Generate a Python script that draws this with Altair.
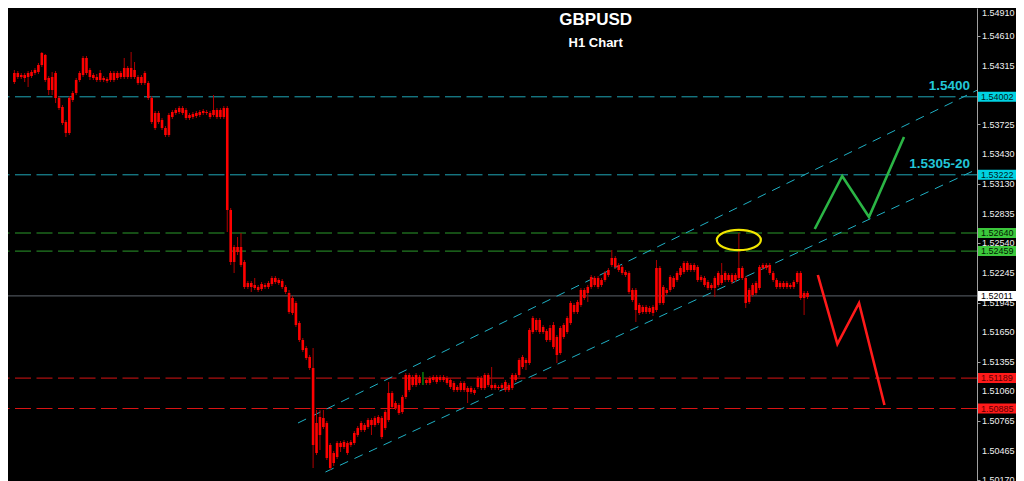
import altair as alt
import pandas as pd

# ---------------- candle data (H1 bars, GBPUSD) ----------------
opens = [
    1.5415, 1.5424, 1.5422, 1.5419, 1.5420, 1.5421, 1.5424, 1.5425, 1.5432, 1.5442,
    1.5419, 1.5420, 1.5424, 1.5399, 1.5390, 1.5364, 1.5364, 1.5397, 1.5404, 1.5417,
    1.5422, 1.5439, 1.5427, 1.5422, 1.5417, 1.5424, 1.5419, 1.5416, 1.5417, 1.5424,
    1.5419, 1.5420, 1.5420, 1.5429, 1.5420, 1.5427, 1.5420, 1.5414, 1.5424, 1.5414,
    1.5399, 1.5369, 1.5384, 1.5377, 1.5369, 1.5362, 1.5380, 1.5384, 1.5385, 1.5389,
    1.5387, 1.5379, 1.5380, 1.5381, 1.5382, 1.5386, 1.5385, 1.5384, 1.5382, 1.5387,
    1.5380, 1.5380, 1.5389, 1.5287, 1.5235, 1.5250, 1.5250, 1.5235, 1.5210, 1.5214,
    1.5209, 1.5210, 1.5208, 1.5212, 1.5210, 1.5213, 1.5219, 1.5217, 1.5216, 1.5210,
    1.5204, 1.5199, 1.5194, 1.5174, 1.5157, 1.5149, 1.5140, 1.5129, 1.5044, 1.5080,
    1.5070, 1.5074, 1.5052, 1.5034, 1.5040, 1.5054, 1.5050, 1.5054, 1.5052, 1.5054,
    1.5062, 1.5067, 1.5072, 1.5070, 1.5077, 1.5072, 1.5074, 1.5079, 1.5069, 1.5077,
    1.5104, 1.5094, 1.5092, 1.5085, 1.5100, 1.5122, 1.5112, 1.5122, 1.5114, 1.5116,
    1.5117, 1.5114, 1.5117, 1.5120, 1.5117, 1.5120, 1.5119, 1.5117, 1.5114, 1.5107,
    1.5107, 1.5114, 1.5109, 1.5105, 1.5107, 1.5110, 1.5119, 1.5109, 1.5122, 1.5112,
    1.5109, 1.5110, 1.5109, 1.5115, 1.5107, 1.5109, 1.5122, 1.5122, 1.5130, 1.5137,
    1.5134, 1.5165, 1.5177, 1.5165, 1.5170, 1.5166, 1.5157, 1.5172, 1.5160, 1.5144,
    1.5160, 1.5165, 1.5174, 1.5192, 1.5185, 1.5192, 1.5207, 1.5204, 1.5210, 1.5219,
    1.5210, 1.5217, 1.5217, 1.5222, 1.5232, 1.5239, 1.5232, 1.5230, 1.5225, 1.5224,
    1.5207, 1.5207, 1.5192, 1.5185, 1.5190, 1.5185, 1.5190, 1.5187, 1.5229, 1.5194,
    1.5207, 1.5207, 1.5219, 1.5217, 1.5222, 1.5225, 1.5234, 1.5227, 1.5232, 1.5230,
    1.5217, 1.5219, 1.5215, 1.5209, 1.5209, 1.5212, 1.5222, 1.5217, 1.5222, 1.5215,
    1.5222, 1.5219, 1.5229, 1.5219, 1.5195, 1.5202, 1.5204, 1.5209, 1.5229, 1.5232,
    1.5232, 1.5224, 1.5217, 1.5210, 1.5214, 1.5210, 1.5212, 1.5210, 1.5215, 1.5224,
    1.5199, 1.5204,
]
highs = [
    1.5427, 1.5426, 1.5424, 1.5424, 1.5426, 1.5427, 1.5429, 1.5434, 1.5445, 1.5443,
    1.5421, 1.5425, 1.5426, 1.5401, 1.5392, 1.5377, 1.5401, 1.5406, 1.5419, 1.5426,
    1.5441, 1.5441, 1.5429, 1.5424, 1.5423, 1.5427, 1.5421, 1.5420, 1.5426, 1.5426,
    1.5426, 1.5426, 1.5439, 1.5431, 1.5445, 1.5435, 1.5422, 1.5422, 1.5426, 1.5416,
    1.5401, 1.5386, 1.5386, 1.5379, 1.5371, 1.5384, 1.5387, 1.5389, 1.5391, 1.5391,
    1.5389, 1.5384, 1.5385, 1.5386, 1.5387, 1.5388, 1.5387, 1.5386, 1.5402, 1.5389,
    1.5389, 1.5391, 1.5391, 1.5289, 1.5252, 1.5260, 1.5264, 1.5237, 1.5216, 1.5216,
    1.5219, 1.5212, 1.5215, 1.5214, 1.5216, 1.5221, 1.5221, 1.5219, 1.5218, 1.5212,
    1.5207, 1.5201, 1.5196, 1.5176, 1.5159, 1.5151, 1.5142, 1.5149, 1.5087, 1.5087,
    1.5087, 1.5076, 1.5054, 1.5046, 1.5056, 1.5056, 1.5057, 1.5056, 1.5057, 1.5066,
    1.5071, 1.5076, 1.5074, 1.5079, 1.5079, 1.5081, 1.5082, 1.5081, 1.5087, 1.5115,
    1.5106, 1.5096, 1.5094, 1.5102, 1.5124, 1.5124, 1.5122, 1.5124, 1.5122, 1.5125,
    1.5119, 1.5121, 1.5122, 1.5122, 1.5122, 1.5122, 1.5121, 1.5119, 1.5116, 1.5112,
    1.5116, 1.5116, 1.5111, 1.5111, 1.5109, 1.5121, 1.5121, 1.5124, 1.5124, 1.5130,
    1.5114, 1.5112, 1.5114, 1.5117, 1.5114, 1.5124, 1.5124, 1.5139, 1.5142, 1.5139,
    1.5169, 1.5181, 1.5179, 1.5179, 1.5172, 1.5168, 1.5172, 1.5175, 1.5162, 1.5171,
    1.5174, 1.5181, 1.5196, 1.5194, 1.5197, 1.5209, 1.5209, 1.5212, 1.5222, 1.5221,
    1.5221, 1.5219, 1.5226, 1.5229, 1.5247, 1.5241, 1.5234, 1.5232, 1.5227, 1.5226,
    1.5209, 1.5209, 1.5194, 1.5192, 1.5192, 1.5191, 1.5192, 1.5237, 1.5231, 1.5212,
    1.5209, 1.5222, 1.5221, 1.5226, 1.5231, 1.5236, 1.5236, 1.5234, 1.5234, 1.5232,
    1.5222, 1.5221, 1.5217, 1.5214, 1.5221, 1.5226, 1.5234, 1.5226, 1.5224, 1.5224,
    1.5224, 1.5264, 1.5231, 1.5221, 1.5209, 1.5214, 1.5216, 1.5232, 1.5234, 1.5234,
    1.5234, 1.5226, 1.5219, 1.5216, 1.5216, 1.5216, 1.5214, 1.5217, 1.5226, 1.5226,
    1.5206, 1.5206,
]
lows = [
    1.5413, 1.5418, 1.5418, 1.5415, 1.5410, 1.5419, 1.5422, 1.5423, 1.5430, 1.5415,
    1.5402, 1.5402, 1.5394, 1.5387, 1.5372, 1.5360, 1.5362, 1.5395, 1.5402, 1.5415,
    1.5420, 1.5422, 1.5417, 1.5417, 1.5415, 1.5415, 1.5415, 1.5414, 1.5415, 1.5415,
    1.5417, 1.5418, 1.5418, 1.5418, 1.5418, 1.5418, 1.5412, 1.5412, 1.5412, 1.5397,
    1.5373, 1.5367, 1.5373, 1.5367, 1.5360, 1.5360, 1.5378, 1.5382, 1.5383, 1.5382,
    1.5377, 1.5377, 1.5378, 1.5379, 1.5380, 1.5382, 1.5382, 1.5378, 1.5380, 1.5378,
    1.5378, 1.5378, 1.5265, 1.5232, 1.5224, 1.5242, 1.5230, 1.5208, 1.5208, 1.5205,
    1.5207, 1.5205, 1.5206, 1.5208, 1.5208, 1.5211, 1.5213, 1.5212, 1.5208, 1.5203,
    1.5183, 1.5182, 1.5170, 1.5155, 1.5145, 1.5137, 1.5127, 1.5029, 1.5042, 1.5047,
    1.5068, 1.5037, 1.5027, 1.5031, 1.5038, 1.5045, 1.5048, 1.5042, 1.5050, 1.5052,
    1.5060, 1.5065, 1.5065, 1.5068, 1.5062, 1.5070, 1.5072, 1.5058, 1.5067, 1.5075,
    1.5088, 1.5087, 1.5082, 1.5083, 1.5098, 1.5105, 1.5110, 1.5110, 1.5112, 1.5112,
    1.5112, 1.5112, 1.5115, 1.5113, 1.5115, 1.5115, 1.5112, 1.5108, 1.5105, 1.5105,
    1.5105, 1.5105, 1.5094, 1.5103, 1.5102, 1.5108, 1.5107, 1.5107, 1.5110, 1.5107,
    1.5107, 1.5107, 1.5107, 1.5105, 1.5105, 1.5107, 1.5115, 1.5120, 1.5128, 1.5127,
    1.5132, 1.5163, 1.5165, 1.5163, 1.5163, 1.5155, 1.5155, 1.5148, 1.5134, 1.5142,
    1.5158, 1.5163, 1.5172, 1.5183, 1.5183, 1.5190, 1.5197, 1.5195, 1.5208, 1.5210,
    1.5208, 1.5210, 1.5215, 1.5220, 1.5230, 1.5228, 1.5225, 1.5222, 1.5220, 1.5203,
    1.5195, 1.5175, 1.5182, 1.5183, 1.5183, 1.5183, 1.5181, 1.5185, 1.5192, 1.5192,
    1.5202, 1.5205, 1.5208, 1.5215, 1.5220, 1.5223, 1.5225, 1.5225, 1.5225, 1.5215,
    1.5215, 1.5210, 1.5207, 1.5207, 1.5200, 1.5210, 1.5212, 1.5215, 1.5215, 1.5213,
    1.5215, 1.5217, 1.5217, 1.5189, 1.5193, 1.5200, 1.5202, 1.5207, 1.5227, 1.5227,
    1.5222, 1.5215, 1.5208, 1.5208, 1.5208, 1.5208, 1.5208, 1.5208, 1.5213, 1.5197,
    1.5182, 1.5198,
]
closes = [
    1.5424, 1.5420, 1.5420, 1.5422, 1.5424, 1.5425, 1.5427, 1.5432, 1.5444, 1.5417,
    1.5407, 1.5407, 1.5399, 1.5389, 1.5374, 1.5375, 1.5399, 1.5404, 1.5417, 1.5424,
    1.5439, 1.5424, 1.5420, 1.5419, 1.5420, 1.5417, 1.5417, 1.5418, 1.5424, 1.5417,
    1.5424, 1.5424, 1.5429, 1.5420, 1.5429, 1.5420, 1.5414, 1.5420, 1.5414, 1.5399,
    1.5375, 1.5384, 1.5375, 1.5369, 1.5362, 1.5382, 1.5385, 1.5387, 1.5389, 1.5384,
    1.5379, 1.5382, 1.5383, 1.5384, 1.5385, 1.5384, 1.5384, 1.5380, 1.5387, 1.5380,
    1.5387, 1.5389, 1.5287, 1.5235, 1.5250, 1.5245, 1.5232, 1.5210, 1.5214, 1.5210,
    1.5212, 1.5207, 1.5213, 1.5210, 1.5214, 1.5219, 1.5215, 1.5214, 1.5210, 1.5205,
    1.5185, 1.5184, 1.5172, 1.5157, 1.5147, 1.5139, 1.5129, 1.5052, 1.5074, 1.5062,
    1.5079, 1.5039, 1.5029, 1.5044, 1.5054, 1.5050, 1.5055, 1.5044, 1.5055, 1.5064,
    1.5069, 1.5074, 1.5067, 1.5077, 1.5072, 1.5079, 1.5080, 1.5060, 1.5085, 1.5104,
    1.5090, 1.5089, 1.5084, 1.5100, 1.5122, 1.5107, 1.5120, 1.5112, 1.5120, 1.5116,
    1.5114, 1.5119, 1.5120, 1.5115, 1.5120, 1.5117, 1.5114, 1.5110, 1.5107, 1.5110,
    1.5114, 1.5107, 1.5105, 1.5109, 1.5104, 1.5119, 1.5109, 1.5122, 1.5112, 1.5109,
    1.5112, 1.5109, 1.5112, 1.5107, 1.5112, 1.5122, 1.5117, 1.5137, 1.5140, 1.5134,
    1.5167, 1.5179, 1.5167, 1.5177, 1.5165, 1.5157, 1.5169, 1.5150, 1.5142, 1.5169,
    1.5172, 1.5179, 1.5194, 1.5185, 1.5195, 1.5207, 1.5199, 1.5210, 1.5220, 1.5212,
    1.5219, 1.5212, 1.5224, 1.5227, 1.5239, 1.5230, 1.5227, 1.5224, 1.5222, 1.5205,
    1.5197, 1.5187, 1.5184, 1.5190, 1.5185, 1.5189, 1.5184, 1.5229, 1.5194, 1.5210,
    1.5204, 1.5220, 1.5210, 1.5224, 1.5229, 1.5234, 1.5227, 1.5232, 1.5227, 1.5217,
    1.5220, 1.5212, 1.5209, 1.5212, 1.5219, 1.5224, 1.5214, 1.5224, 1.5217, 1.5222,
    1.5217, 1.5229, 1.5219, 1.5194, 1.5207, 1.5212, 1.5214, 1.5230, 1.5232, 1.5229,
    1.5224, 1.5217, 1.5210, 1.5214, 1.5210, 1.5214, 1.5210, 1.5215, 1.5224, 1.5199,
    1.5204, 1.5200,
]

# ---------------- horizontal levels ----------------
level_prices = [1.54002, 1.53222, 1.52640, 1.52459, 1.52011, 1.51189, 1.50885]
level_kinds = ["resistance", "resistance", "pivot", "pivot", "bid", "support", "support"]

# ---------------- right-axis tick labels ----------------
tick_values = [1.54910, 1.54610, 1.54315, 1.53725, 1.53430, 1.53130, 1.52835,
               1.52540, 1.52245, 1.51945, 1.51650, 1.51355, 1.51060, 1.50765,
               1.50465, 1.50170]

# ---------------- drawn objects ----------------
channel_names = ["upper", "upper", "lower", "lower"]
channel_bars = [82.6, 281.1, 90.6, 281.1]
channel_prices = [1.5074, 1.5408, 1.5025, 1.5329]

bull_path_bars = [233.1, 241.1, 248.9, 259.1]
bull_path_prices = [1.5268, 1.5321, 1.5280, 1.5360]
bear_path_bars = [234.0, 239.7, 246.0, 253.4]
bear_path_prices = [1.5222, 1.5153, 1.5194, 1.5092]

spike_bar = [211]
spike_price = [1.5257]

target_texts = ["1.5400", "1.5305-20"]
target_prices = [1.54002, 1.53222]
target_bar = [278.3, 278.3]

title_bar = [169.3]
title_main = ["GBPUSD"]
title_sub = ["H1 Chart"]

# ---------------- tables ----------------
candles = pd.DataFrame({
    "bar": list(range(len(opens))),
    "open": opens, "high": highs, "low": lows, "close": closes,
})
levels = pd.DataFrame({"price": level_prices, "kind": level_kinds})
ticks = pd.DataFrame({"price": tick_values})
channels = pd.DataFrame({"edge": channel_names, "bar": channel_bars, "price": channel_prices})
bull = pd.DataFrame({"step": range(4), "bar": bull_path_bars, "price": bull_path_prices})
bear = pd.DataFrame({"step": range(4), "bar": bear_path_bars, "price": bear_path_prices})
spike = pd.DataFrame({"bar": spike_bar, "price": spike_price})
targets = pd.DataFrame({"bar": target_bar, "price": target_prices, "label": target_texts})
title_df = pd.DataFrame({"bar": title_bar, "main": title_main, "sub": title_sub})

PLOT_W = 969
PLOT_H = 473
Y_TOP = 1.5489
X_SCALE = alt.Scale(domain=[-0.4, 278.9], nice=False, zero=False)
Y_SCALE = alt.Scale(domain=[1.5016, Y_TOP], nice=False, zero=False)

kind_domain = ["resistance", "pivot", "bid", "support"]
line_colors = ["#1ea6b6", "#2a9a2a", "#5c636b", "#d81414"]
box_colors = ["#00d2e2", "#3cc83c", "#ffffff", "#ff1a1a"]
box_text_colors = ["#002020", "#002000", "#000000", "#5a0000"]

def xq(field="bar"):
    return alt.X(f"{field}:Q", scale=X_SCALE, axis=None)

def yq(field="price"):
    # no axis given here: the single price axis comes from axis_layer
    return alt.Y(f"{field}:Q", scale=Y_SCALE)

# price axis (right side): line and ticks from the axis, labels as text marks
axis_layer = alt.Chart(ticks).mark_tick(opacity=0).encode(
    y=alt.Y("price:Q", scale=Y_SCALE, axis=alt.Axis(
        orient="right", values=tick_values, title=None, grid=False, labels=False,
        tickColor="#a0a0a0", tickSize=3, domainColor="#a0a0a0", domainWidth=1)),
)
label_style = dict(align="left", baseline="middle", fontSize=9, font="Liberation Sans", color="#f0f0f0")
tick_labels = alt.Chart(ticks).transform_filter(f"datum.price < {Y_TOP}").mark_text(**label_style).encode(
    x=alt.value(PLOT_W + 5), y=yq(), text=alt.Text("price:Q", format=".5f"),
)
# the top label lies just above the visible area: keep it readable at the top edge
top_label = alt.Chart(ticks).transform_filter(f"datum.price >= {Y_TOP}").mark_text(
    **label_style, dy=7).encode(
    x=alt.value(PLOT_W + 5), y=yq(), text=alt.Text("price:Q", format=".5f"),
)

# level lines
level_lines = alt.Chart(levels).mark_rule().encode(
    y=yq(),
    color=alt.Color("kind:N", scale=alt.Scale(domain=kind_domain, range=line_colors), legend=None),
    strokeDash=alt.StrokeDash("kind:N", scale=alt.Scale(domain=kind_domain,
                              range=[[16, 5.5], [16, 5.5], [1, 0], [16, 5.5]]), legend=None),
    strokeWidth=alt.StrokeWidth("kind:N", scale=alt.Scale(domain=kind_domain, range=[1, 1, 2, 1.2]), legend=None),
)

# channel
channel = alt.Chart(channels).mark_line(strokeDash=[9, 7], strokeWidth=1, color="#1fb0c4", clip=True).encode(
    x=xq(), y=yq(), detail="edge:N"
)

# candles
candle_color = alt.condition("datum.open == datum.close", alt.value("#10c010"), alt.value("#b00000"))
body_color = alt.condition("datum.open == datum.close", alt.value("#10c010"), alt.value("#ff0000"))
wicks = alt.Chart(candles).mark_rule(strokeWidth=1).encode(
    x=xq(),
    y=yq("low"),
    y2="high:Q",
    color=candle_color,
)
bodies = alt.Chart(candles).mark_bar(size=2.6).encode(
    x=xq(),
    y=yq("open"),
    y2="close:Q",
    color=body_color,
)

# projected paths
bull_line = alt.Chart(bull).mark_line(color="#2bb545", strokeWidth=2.6).encode(
    x=xq(), y=yq(), order="step:Q")
bear_line = alt.Chart(bear).mark_line(color="#ff1a1a", strokeWidth=2.6).encode(
    x=xq(), y=yq(), order="step:Q")

# ellipse round the spike
ellipse_path = "M -1 0 A 1 0.46 0 1 0 1 0 A 1 0.46 0 1 0 -1 0 Z"
ellipse = alt.Chart(spike).mark_point(shape=ellipse_path, size=1936, filled=False,
                                      stroke="#f2e600", strokeWidth=2.2, opacity=1).encode(
    x=xq(), y=yq())

# target labels
target_text = alt.Chart(targets).mark_text(
    align="right", baseline="alphabetic", dy=-7, fontSize=13.5, fontWeight="bold",
    font="Liberation Sans", color="#22c6d8").encode(x=xq(), y=yq(), text="label:N")

# price boxes on the axis
boxes = alt.Chart(levels).transform_calculate(
    top="datum.price + 0.0005", bottom="datum.price - 0.0005"
).mark_rect().encode(
    x=alt.value(PLOT_W + 1), x2=alt.value(PLOT_W + 39),
    y=yq("top"), y2="bottom:Q",
    color=alt.Color("kind:N", scale=alt.Scale(domain=kind_domain, range=box_colors), legend=None),
)
box_text = alt.Chart(levels).mark_text(
    align="left", baseline="middle", fontSize=9, font="Liberation Sans").encode(
    x=alt.value(PLOT_W + 4),
    y=yq(),
    text=alt.Text("price:Q", format=".5f"),
    color=alt.Color("kind:N", scale=alt.Scale(domain=kind_domain, range=box_text_colors), legend=None),
)

# title
title_main_mark = alt.Chart(title_df).mark_text(
    fontSize=17, fontWeight="bold", font="Liberation Sans", color="#ffffff",
    baseline="alphabetic", align="center").encode(x=xq(), y=alt.value(17), text="main:N")
title_sub_mark = alt.Chart(title_df).mark_text(
    fontSize=13, fontWeight="bold", font="Liberation Sans", color="#ffffff",
    baseline="alphabetic", align="center").encode(x=xq(), y=alt.value(39), text="sub:N")

chart = alt.layer(
    axis_layer, level_lines, channel, wicks, bodies, bull_line, bear_line, ellipse,
    target_text, tick_labels, top_label, boxes, box_text, title_main_mark, title_sub_mark,
).resolve_scale(color="independent", strokeDash="independent", strokeWidth="independent").properties(
    width=PLOT_W, height=PLOT_H,
    autosize=alt.AutoSizeParams(type="none"),
    padding={"left": 0, "top": 0, "right": 39, "bottom": 0},
    background="#000000",
).configure_view(stroke=None)

chart.save("out.html", embed_options={"renderer": "svg", "actions": False})
